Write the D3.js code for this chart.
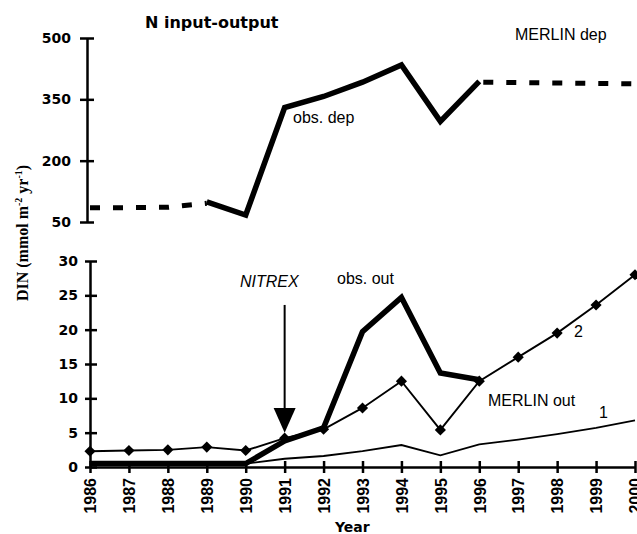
<!DOCTYPE html>
<html>
<head>
<meta charset="utf-8">
<script src="https://cdn.jsdelivr.net/npm/d3@7"></script>
<style>
  body { margin: 0; background: #fff; }
  svg { display: block; }
  .axis path, .axis line { stroke: #000; stroke-width: 2.5; }
  .axis text { font-family: "DejaVu Sans", sans-serif; font-weight: bold; font-size: 14px; fill: #000; }
  .axis--x text { font-family: "Liberation Sans", Arial, sans-serif; font-size: 16px; }
  .note { font-family: "Liberation Sans", Arial, sans-serif; font-size: 16px; fill: #000; }
</style>
</head>
<body>
<svg width="637" height="534"></svg>
<script>
// data
const years = d3.range(1986, 2001);
const topTicks = [50, 200, 350, 500];
const bottomTicks = [0, 5, 10, 15, 20, 25, 30];

const depObsYears = [1989, 1990, 1991, 1992, 1993, 1994, 1995, 1996];
const depObs = [99, 67, 330, 357, 392, 434, 296, 394];
const depMerlinEarlyYears = [1986, 1987, 1988, 1989];
const depMerlinEarly = [85, 85, 86, 96];
const depMerlinLateYears = [1996, 1997, 1998, 1999, 2000];
const depMerlinLate = [392, 391, 390, 389, 388];

const outObsYears = d3.range(1986, 1997);
const outObs = [0.5, 0.5, 0.5, 0.5, 0.5, 3.8, 5.7, 19.7, 24.7, 13.7, 12.7];
const out2Years = d3.range(1986, 2001);
const out2 = [2.3, 2.4, 2.5, 2.9, 2.4, 4.2, 5.5, 8.6, 12.5, 5.4, 12.5, 16.0, 19.5, 23.6, 28.0];
const out1Years = d3.range(1990, 2001);
const out1 = [0.5, 1.2, 1.6, 2.3, 3.2, 1.7, 3.3, 4.0, 4.8, 5.7, 6.8];

const arrowYear = 1991, arrowFrom = 23.6, arrowHead = 8.6, arrowTip = 5.0;

const svg = d3.select('svg');

const x = d3.scaleLinear().domain([1986, 2000]).range([90, 635]);
const yTop = d3.scaleLinear().domain([50, 500]).range([222, 38]);
const yBot = d3.scaleLinear().domain([0, 30]).range([467, 261]);

const zip = (xs, ys) => xs.map((d, i) => [d, ys[i]]);

// axes
svg.append("g")
    .attr("class", "axis axis--top")
    .attr("transform", `translate(${x(1986) - 3},0)`)
    .call(d3.axisLeft(yTop).tickValues(topTicks).tickSizeOuter(0).tickPadding(10).tickFormat(d3.format("d")))
    .call(g => g.selectAll(".tick line").attr("x1", -7).attr("x2", 7));

svg.append("g")
    .attr("class", "axis axis--bottom")
    .attr("transform", `translate(${x(1986)},0)`)
    .call(d3.axisLeft(yBot).tickValues(bottomTicks).tickSizeOuter(0).tickPadding(6))
    .call(g => g.selectAll(".tick line").attr("x1", -5).attr("x2", 7));

svg.append("g")
    .attr("class", "axis axis--x")
    .attr("transform", `translate(0,${yBot(0)})`)
    .call(d3.axisBottom(x).tickValues(years).tickFormat(d3.format("d")).tickSizeOuter(0))
    .call(g => {
        g.selectAll(".tick line").attr("y1", -6).attr("y2", 6);
        g.selectAll(".tick text")
            .attr("transform", "rotate(-90)")
            .attr("text-anchor", "end")
            .attr("x", -11)
            .attr("y", 0)
            .attr("dy", "0.36em");
    });

// lines
const lineTop = d3.line().x(d => x(d[0])).y(d => yTop(d[1]));
const lineBot = d3.line().x(d => x(d[0])).y(d => yBot(d[1]));

svg.append("path")
    .attr("d", lineTop(zip(depMerlinEarlyYears, depMerlinEarly)))
    .attr("fill", "none").attr("stroke", "#000").attr("stroke-width", 5)
    .attr("stroke-dasharray", "10,13");
svg.append("path")
    .attr("d", lineTop(zip(depMerlinLateYears, depMerlinLate)))
    .attr("fill", "none").attr("stroke", "#000").attr("stroke-width", 5)
    .attr("stroke-dasharray", "10,13").attr("stroke-dashoffset", -4);
svg.append("path")
    .attr("d", lineTop(zip(depObsYears, depObs)))
    .attr("fill", "none").attr("stroke", "#000").attr("stroke-width", 5.5);

svg.append("path")
    .attr("d", lineBot(zip(out1Years, out1)))
    .attr("fill", "none").attr("stroke", "#000").attr("stroke-width", 1.8);
svg.append("path")
    .attr("d", lineBot(zip(outObsYears, outObs)))
    .attr("fill", "none").attr("stroke", "#000").attr("stroke-width", 5.5);
svg.append("path")
    .attr("d", lineBot(zip(out2Years, out2)))
    .attr("fill", "none").attr("stroke", "#000").attr("stroke-width", 1.9);

svg.selectAll(".diamond")
    .data(zip(out2Years, out2))
    .enter().append("path")
    .attr("class", "diamond")
    .attr("d", d3.symbol().type(d3.symbolSquare).size(62))
    .attr("transform", d => `translate(${x(d[0])},${yBot(d[1])}) rotate(45)`)
    .attr("fill", "#000");

// NITREX arrow
const ax = x(arrowYear);
svg.append("line")
    .attr("x1", ax).attr("x2", ax)
    .attr("y1", yBot(arrowFrom)).attr("y2", yBot(arrowHead) + 2)
    .attr("stroke", "#000").attr("stroke-width", 2);
svg.append("path")
    .attr("d", `M${ax - 11},${yBot(arrowHead)}L${ax + 11},${yBot(arrowHead)}L${ax},${yBot(arrowTip)}Z`)
    .attr("fill", "#000");

// texts
svg.append("text")
    .attr("x", 145).attr("y", 28)
    .style("font-family", "DejaVu Sans, sans-serif").style("font-weight", "bold").style("font-size", "16px")
    .text("N input-output");

const notes = [
    { t: "obs. dep", x: 293, y: 123 },
    { t: "MERLIN dep", x: 515, y: 40 },
    { t: "obs. out", x: 337, y: 284 },
    { t: "MERLIN out", x: 488, y: 406 },
    { t: "2", x: 574, y: 337 },
    { t: "1", x: 599, y: 418 },
];
svg.selectAll(".note")
    .data(notes)
    .enter().append("text")
    .attr("class", "note")
    .attr("x", d => d.x).attr("y", d => d.y)
    .text(d => d.t);

svg.append("text")
    .attr("class", "note")
    .attr("x", 240).attr("y", 287)
    .style("font-style", "italic")
    .text("NITREX");

svg.append("text")
    .attr("x", 335).attr("y", 532)
    .style("font-family", "DejaVu Sans, sans-serif").style("font-weight", "bold").style("font-size", "14px")
    .text("Year");

const ylab = svg.append("text")
    .attr("transform", "translate(28,233) rotate(-90)")
    .attr("text-anchor", "middle")
    .style("font-family", "Liberation Serif, serif").style("font-weight", "bold").style("font-size", "16px");
ylab.append("tspan").text("DIN (mmol m");
ylab.append("tspan").attr("dy", -6).style("font-size", "10px").text("-2");
ylab.append("tspan").attr("dy", 6).text(" yr");
ylab.append("tspan").attr("dy", -6).style("font-size", "10px").text("-1");
ylab.append("tspan").attr("dy", 6).text(")");
</script>
</body>
</html>
